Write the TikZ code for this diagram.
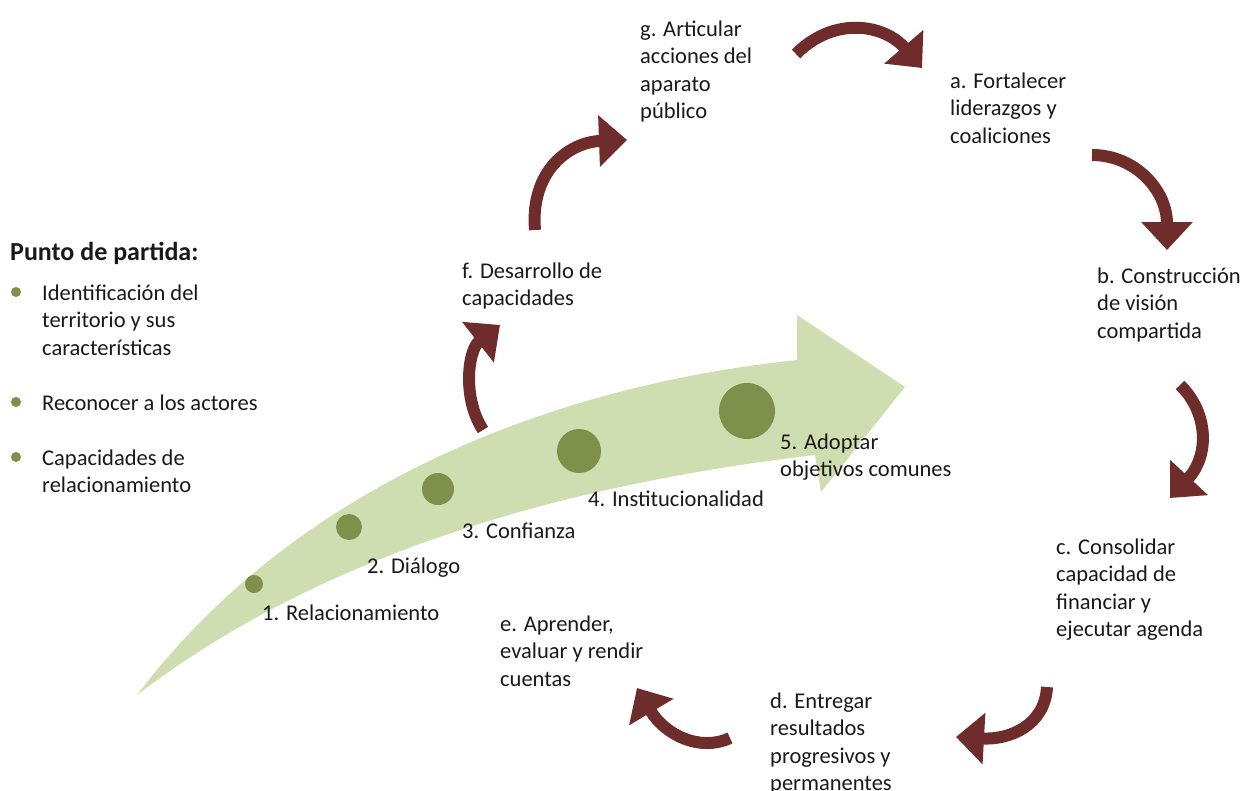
\documentclass[tikz,border=0pt]{standalone}
\usepackage{fontspec}
\setmainfont{Carlito}
\usetikzlibrary{arrows.meta, positioning}
\definecolor{flecha}{HTML}{6E2D2A}
\definecolor{verdeclaro}{HTML}{CEDEB1}
\definecolor{verdeoscuro}{HTML}{7F904A}

\begin{document}
\begin{tikzpicture}[x=1pt, y=-1pt,
    txt/.style={anchor=base west, align=left, inner sep=0pt, text=black!90, font=\fontsize{22.5}{27.5}\selectfont},
    giro/.style={line width=12pt, draw=flecha, -{Triangle[width=50pt, length=28pt]}},
    punto/.style={circle, fill=verdeoscuro, inner sep=0pt}]

        \useasboundingbox (0,0) rectangle (1242,790);

        % Flecha grande
        \fill[verdeclaro] (137,695) .. controls (300,480) and (560,385) .. (797,360) -- (797,315) -- (905,387)
            -- (821,492) -- (815,455) .. controls (560,485) and (320,555) .. cycle;

        % Puntos sobre la flecha
        \node[punto, minimum size=18pt] (p1) at (254,584) {};
        \node[punto, minimum size=26pt] (p2) at (349,527) {};
        \node[punto, minimum size=32pt] (p3) at (438,489) {};
        \node[punto, minimum size=44pt] (p4) at (579,451) {};
        \node[punto, minimum size=56pt] (p5) at (747,411) {};

        % Etapas (base = ultima linea)
        \node[txt] (e1) at (262,620) {1. Relacionamiento};
        \node[txt] (e2) at (367,573) {2. Diálogo};
        \node[txt] (e3) at (462,538) {3. Confianza};
        \node[txt] (e4) at (588,506) {4. Institucionalidad};
        \node[txt] (e5) at (780,476.5) {5. Adoptar\\objetivos comunes};

        % Punto de partida
        \node[txt, font=\fontsize{26}{30}\selectfont\bfseries] (partida) at (10,260) {Punto de partida:};
        \node[punto, minimum size=10pt] (b1) at (16,292) {};
        \node[punto, minimum size=10pt] (b2) at (16,402) {};
        \node[punto, minimum size=10pt] (b3) at (16,457) {};
        \node[txt] (t1) at (42,355) {Identificación del\\territorio y sus\\características};
        \node[txt] (t2) at (42,410) {Reconocer a los actores};
        \node[txt] (t3) at (42,492.5) {Capacidades de\\relacionamiento};

        % Ciclo
        \node[txt] (ca) at (950,143) {a. Fortalecer\\liderazgos y\\coaliciones};
        \node[txt] (cb) at (1097,338) {b. Construcción\\de visión\\compartida};
        \node[txt] (cc) at (1056,636.5) {c. Consolidar\\capacidad de\\financiar y\\ejecutar agenda};
        \node[txt] (cd) at (770,790.5) {d. Entregar\\resultados\\progresivos y\\permanentes};
        \node[txt] (ce) at (500,686) {e. Aprender,\\evaluar y rendir\\cuentas};
        \node[txt] (cf) at (462,305.5) {f. Desarrollo de\\capacidades};
        \node[txt] (cg) at (640,118.5) {g. Articular\\acciones del\\aparato\\público};

        % Flechas del ciclo
        \draw[giro] (796,54) .. controls (835,15) and (885,25) .. (922,68);
        \draw[giro] (1092,155) .. controls (1135,155) and (1167,190) .. (1167,250);
        \draw[giro] (1180,385) .. controls (1208,412) and (1210,455) .. (1170,498);
        \draw[giro] (1047,687) .. controls (1045,725) and (1010,740) .. (956,737);
        \draw[giro] (730,738) .. controls (700,752) and (665,735) .. (637,688);
        \draw[giro] (483,430) .. controls (462,398) and (468,350) .. (500,325);
        \draw[giro] (535,230) .. controls (530,170) and (570,142) .. (627,140);

\end{tikzpicture}
\end{document}
